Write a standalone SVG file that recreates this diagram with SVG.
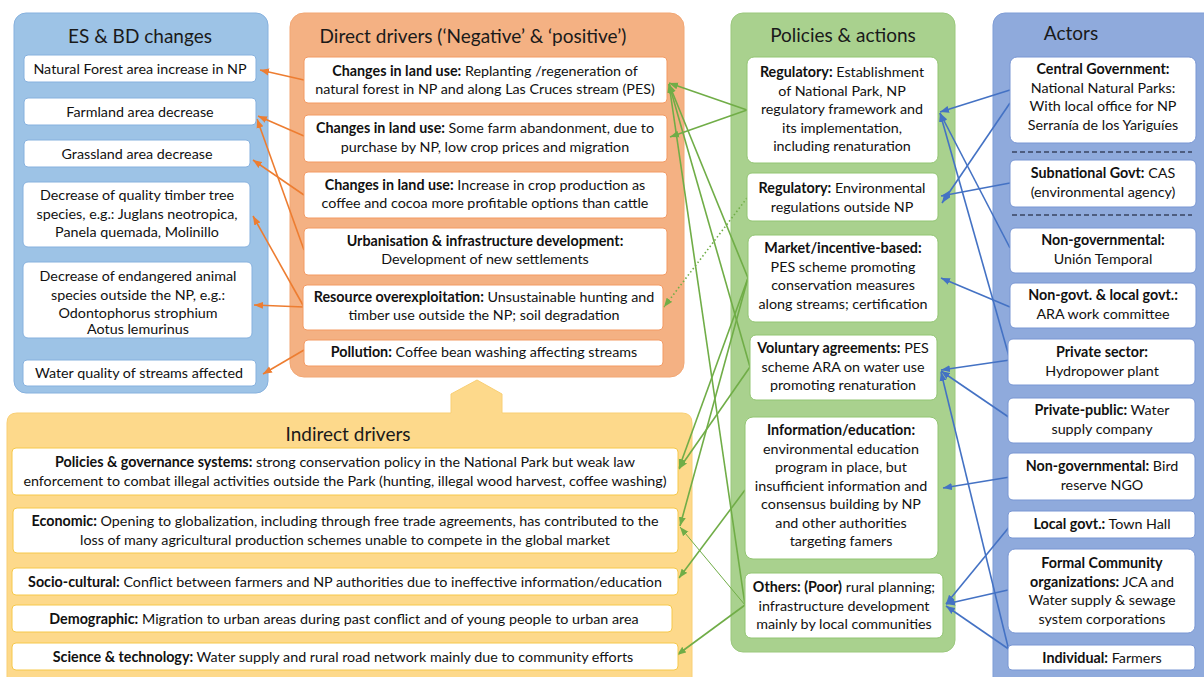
<svg xmlns="http://www.w3.org/2000/svg" width="1204" height="677" viewBox="0 0 1204 677">
  <style>
    text { font-family: Lato, "Liberation Sans", sans-serif; font-size: 14.3px; fill: #111; }
    .t { text-anchor: middle; }
    .b { font-weight: bold; }
    .title { font-size: 19px; text-anchor: middle; fill: #1a1a1a; }
    .es { fill: #fff; stroke: #86b1de; stroke-width: 1; }
    .dd { fill: #fff; stroke: #f39a63; stroke-width: 1; }
    .pa { fill: #fff; stroke: #92c572; stroke-width: 1; }
    .ac { fill: #fff; stroke: #7896d3; stroke-width: 1; }
    .id { fill: #fff; stroke: #f6c84a; stroke-width: 1; }
    .eo { stroke: #ed7d31; stroke-width: 1.6; fill: none; marker-end: url(#ah-o); }
    .eg { stroke: #70ad47; stroke-width: 1.6; fill: none; marker-end: url(#ah-g); }
    .eg-thin { stroke: #70ad47; stroke-width: 1; fill: none; marker-end: url(#ah-g); }
    .eg-dot { stroke: #70ad47; stroke-width: 1.6; fill: none; stroke-dasharray: 1.5 2.5; marker-end: url(#ah-g); }
    .eb { stroke: #4472c4; stroke-width: 1.6; fill: none; marker-end: url(#ah-b); }
  </style>
  <defs>
    <marker id="ah-o" markerUnits="userSpaceOnUse" markerWidth="10" markerHeight="8" refX="9" refY="4" orient="auto">
      <path d="M0,0.5 L9,4 L0,7.5 z" fill="#ed7d31"/>
    </marker>
    <marker id="ah-g" markerUnits="userSpaceOnUse" markerWidth="10" markerHeight="8" refX="9" refY="4" orient="auto">
      <path d="M0,0.5 L9,4 L0,7.5 z" fill="#70ad47"/>
    </marker>
    <marker id="ah-b" markerUnits="userSpaceOnUse" markerWidth="10" markerHeight="8" refX="9" refY="4" orient="auto">
      <path d="M0,0.5 L9,4 L0,7.5 z" fill="#4472c4"/>
    </marker>
  </defs>

  <rect width="1204" height="677" fill="#fff"/>

  <!-- Panels -->
  <g id="panels">
    <rect x="14" y="13" width="254" height="380" rx="12" fill="#9dc3e6" stroke="#86b1de"/>
    <rect x="290" y="13" width="394" height="364" rx="14" fill="#f4b183" stroke="#f2a774"/>
    <rect x="731" y="13" width="224" height="639" rx="12" fill="#a9d18e" stroke="#9bc87d"/>
    <rect x="993" y="13" width="230" height="690" rx="12" fill="#8faadc" stroke="#7f9dd6"/>
    <path d="M17,413 H451 V394 L477,380 L502,394 V413 H682 Q692,413 692,423 V690 H7 V423 Q7,413 17,413 Z" fill="#fdd98b" stroke="#f9cf74"/>
    <text class="title" x="140" y="43">ES &amp; BD changes</text>
    <text class="title" x="473" y="43">Direct drivers (‘Negative’ &amp; ‘positive’)</text>
    <text class="title" x="843" y="42">Policies &amp; actions</text>
    <text class="title" x="1071" y="40">Actors</text>
    <text class="title" x="348" y="441">Indirect drivers</text>
    <line x1="1012" y1="152" x2="1192" y2="152" stroke="#3a4460" stroke-width="1.4" stroke-dasharray="5 3"/>
    <line x1="1012" y1="215" x2="1192" y2="215" stroke="#3a4460" stroke-width="1.4" stroke-dasharray="5 3"/>
  </g>

  <!-- Connectors -->
  <g id="connectors">
    <!-- direct drivers to ES & BD changes -->
    <line class="eo" x1="304" y1="80" x2="260" y2="70"/>
    <line class="eo" x1="304" y1="136" x2="258" y2="116"/>
    <line class="eo" x1="304" y1="250" x2="257" y2="119"/>
    <line class="eo" x1="304" y1="195" x2="253" y2="160"/>
    <line class="eo" x1="304" y1="307" x2="253" y2="216"/>
    <line class="eo" x1="304" y1="307" x2="254" y2="305"/>
    <line class="eo" x1="304" y1="350" x2="263" y2="374"/>
    <!-- policies to drivers -->
    <line class="eg" x1="747" y1="110" x2="669" y2="83"/>
    <line class="eg" x1="747" y1="110" x2="670" y2="137"/>
    <line class="eg-dot" x1="747" y1="198" x2="664" y2="307"/>
    <line class="eg" x1="748" y1="278" x2="669" y2="84"/>
    <line class="eg" x1="750" y1="367" x2="669" y2="84"/>
    <line class="eg" x1="745" y1="605" x2="669" y2="84"/>
    <line class="eg" x1="748" y1="278" x2="679" y2="468"/>
    <line class="eg" x1="748" y1="278" x2="680" y2="526"/>
    <line class="eg" x1="750" y1="367" x2="679" y2="469"/>
    <line class="eg" x1="745" y1="490" x2="679" y2="578"/>
    <line class="eg-thin" x1="745" y1="605" x2="680" y2="527"/>
    <line class="eg" x1="745" y1="605" x2="677" y2="655"/>
    <!-- actors to policies -->
    <line class="eb" x1="1010" y1="90" x2="940" y2="112"/>
    <line class="eb" x1="1010" y1="103" x2="942" y2="203"/>
    <line class="eb" x1="1010" y1="183" x2="941" y2="196"/>
    <line class="eb" x1="1010" y1="248" x2="940" y2="113"/>
    <line class="eb" x1="1010" y1="360" x2="940" y2="113"/>
    <line class="eb" x1="1010" y1="307" x2="941" y2="278"/>
    <line class="eb" x1="1010" y1="360" x2="941" y2="370"/>
    <line class="eb" x1="1010" y1="418" x2="941" y2="371"/>
    <line class="eb" x1="1010" y1="655" x2="941" y2="372"/>
    <line class="eb" x1="1010" y1="477" x2="943" y2="488"/>
    <line class="eb" x1="1010" y1="526" x2="946" y2="604"/>
    <line class="eb" x1="1008" y1="590" x2="946" y2="604"/>
    <line class="eb" x1="1010" y1="650" x2="946" y2="606"/>
  </g>

  <!-- ES & BD changes -->
  <g id="es-forest"><rect class="es" x="24" y="55" width="232" height="27" rx="4"/>
    <text class="t" x="140" y="74">Natural Forest area increase in NP</text></g>
  <g id="es-farmland"><rect class="es" x="24" y="98" width="232" height="27" rx="4"/>
    <text class="t" x="140" y="117">Farmland area decrease</text></g>
  <g id="es-grassland"><rect class="es" x="24" y="140" width="226" height="27" rx="4"/>
    <text class="t" x="137" y="159">Grassland area decrease</text></g>
  <g id="es-timber"><rect class="es" x="23" y="182" width="227" height="65" rx="5"/>
    <text class="t" x="137" y="200">Decrease of quality timber tree</text>
    <text class="t" x="137" y="218.5">species, e.g.:  Juglans neotropica,</text>
    <text class="t" x="137" y="237">Panela quemada, Molinillo</text></g>
  <g id="es-animals"><rect class="es" x="23" y="262" width="229" height="76" rx="5"/>
    <text class="t" x="138" y="281">Decrease of endangered animal</text>
    <text class="t" x="138" y="299.5">species outside the NP, e.g.:</text>
    <text class="t" x="138" y="318">Odontophorus strophium</text>
    <text class="t" x="138" y="334">Aotus lemurinus</text></g>
  <g id="es-water"><rect class="es" x="23" y="360" width="233" height="26" rx="4"/>
    <text class="t" x="139" y="378">Water quality of streams affected</text></g>

  <!-- Direct drivers -->
  <g id="dd-replanting"><rect class="dd" x="304" y="57" width="363" height="46" rx="4"/>
    <text class="t" x="485" y="76"><tspan class="b">Changes in land use:</tspan> Replanting /regeneration of</text>
    <text class="t" x="485" y="94">natural forest in NP and along Las Cruces stream (PES)</text></g>
  <g id="dd-abandonment"><rect class="dd" x="304" y="115" width="363" height="47" rx="4"/>
    <text class="t" x="485" y="133"><tspan class="b">Changes in land use:</tspan> Some farm abandonment, due to</text>
    <text class="t" x="485" y="152">purchase by NP, low crop prices and migration</text></g>
  <g id="dd-crops"><rect class="dd" x="304" y="172" width="363" height="46" rx="4"/>
    <text class="t" x="485" y="190"><tspan class="b">Changes in land use:</tspan> Increase in crop production as</text>
    <text class="t" x="485" y="208">coffee and cocoa more profitable options than cattle</text></g>
  <g id="dd-urbanisation"><rect class="dd" x="304" y="228" width="363" height="47" rx="4"/>
    <text class="t b" x="485" y="246">Urbanisation &amp; infrastructure development:</text>
    <text class="t" x="485" y="264">Development of new settlements</text></g>
  <g id="dd-overexploitation"><rect class="dd" x="303" y="285" width="360" height="45" rx="4"/>
    <text class="t" x="484" y="302"><tspan class="b">Resource overexploitation:</tspan> Unsustainable hunting and</text>
    <text class="t" x="484" y="320">timber use outside the NP; soil degradation</text></g>
  <g id="dd-pollution"><rect class="dd" x="304" y="340" width="359" height="26" rx="4"/>
    <text class="t" x="484" y="357"><tspan class="b">Pollution:</tspan>  Coffee bean washing affecting streams</text></g>

  <!-- Policies & actions -->
  <g id="pa-regulatory-np"><rect class="pa" x="747" y="57" width="191" height="106" rx="7"/>
    <text class="t" x="842" y="77"><tspan class="b">Regulatory:</tspan> Establishment</text>
    <text class="t" x="842" y="95.5">of National Park, NP</text>
    <text class="t" x="842" y="114">regulatory framework and</text>
    <text class="t" x="842" y="132.5">its implementation,</text>
    <text class="t" x="842" y="151">including renaturation</text></g>
  <g id="pa-regulatory-env"><rect class="pa" x="747" y="173" width="191" height="48" rx="5"/>
    <text class="t" x="842" y="193"><tspan class="b">Regulatory:</tspan> Environmental</text>
    <text class="t" x="842" y="211.5">regulations outside NP</text></g>
  <g id="pa-market"><rect class="pa" x="748" y="235" width="190" height="87" rx="7"/>
    <text class="t b" x="843" y="253">Market/incentive-based:</text>
    <text class="t" x="843" y="271.5">PES scheme promoting</text>
    <text class="t" x="843" y="290">conservation measures</text>
    <text class="t" x="843" y="308.5">along streams; certification</text></g>
  <g id="pa-voluntary"><rect class="pa" x="750" y="335" width="187" height="65" rx="6"/>
    <text class="t" x="843" y="353"><tspan class="b">Voluntary agreements:</tspan> PES</text>
    <text class="t" x="843" y="371.5">scheme ARA on water use</text>
    <text class="t" x="843" y="390">promoting renaturation</text></g>
  <g id="pa-information"><rect class="pa" x="745" y="417" width="193" height="142" rx="8"/>
    <text class="t b" x="841" y="435">Information/education:</text>
    <text class="t" x="841" y="453.5">environmental education</text>
    <text class="t" x="841" y="472">program in place, but</text>
    <text class="t" x="841" y="490.5">insufficient information and</text>
    <text class="t" x="841" y="509">consensus building by NP</text>
    <text class="t" x="841" y="527.5">and other authorities</text>
    <text class="t" x="841" y="546">targeting famers</text></g>
  <g id="pa-others"><rect class="pa" x="745" y="573" width="198" height="65" rx="6"/>
    <text class="t" x="844" y="592"><tspan class="b">Others: (Poor)</tspan> rural planning;</text>
    <text class="t" x="844" y="610.5">infrastructure development</text>
    <text class="t" x="844" y="629">mainly by local communities</text></g>

  <!-- Actors -->
  <g id="ac-central"><rect class="ac" x="1010" y="57" width="186" height="86" rx="7"/>
    <text class="t b" x="1103" y="74">Central Government:</text>
    <text class="t" x="1103" y="92.5">National Natural Parks:</text>
    <text class="t" x="1103" y="111">With local office for NP</text>
    <text class="t" x="1103" y="129.5">Serranía de los Yariguíes</text></g>
  <g id="ac-subnational"><rect class="ac" x="1010" y="160" width="186" height="47" rx="5"/>
    <text class="t" x="1103" y="178"><tspan class="b">Subnational  Govt:</tspan> CAS</text>
    <text class="t" x="1103" y="196.5">(environmental agency)</text></g>
  <g id="ac-union"><rect class="ac" x="1010" y="228" width="186" height="45" rx="5"/>
    <text class="t b" x="1103" y="245">Non-governmental:</text>
    <text class="t" x="1103" y="263.5">Unión Temporal</text></g>
  <g id="ac-ara"><rect class="ac" x="1010" y="283" width="186" height="45" rx="5"/>
    <text class="t b" x="1103" y="300">Non-govt. &amp; local govt.:</text>
    <text class="t" x="1103" y="318.5">ARA work committee</text></g>
  <g id="ac-private"><rect class="ac" x="1008" y="339" width="187" height="46" rx="5"/>
    <text class="t b" x="1102" y="357">Private sector:</text>
    <text class="t" x="1102" y="375.5">Hydropower plant</text></g>
  <g id="ac-water"><rect class="ac" x="1008" y="398" width="187" height="45" rx="5"/>
    <text class="t" x="1102" y="415"><tspan class="b">Private-public:</tspan> Water</text>
    <text class="t" x="1102" y="433.5">supply company</text></g>
  <g id="ac-bird"><rect class="ac" x="1008" y="453" width="187" height="47" rx="5"/>
    <text class="t" x="1102" y="471"><tspan class="b">Non-governmental:</tspan> Bird</text>
    <text class="t" x="1102" y="489.5">reserve NGO</text></g>
  <g id="ac-town"><rect class="ac" x="1008" y="511" width="187" height="27" rx="4"/>
    <text class="t" x="1102" y="529"><tspan class="b">Local govt.:</tspan> Town Hall</text></g>
  <g id="ac-community"><rect class="ac" x="1008" y="549" width="187" height="84" rx="7"/>
    <text class="t b" x="1102" y="568">Formal Community</text>
    <text class="t" x="1102" y="586.5"><tspan class="b">organizations:</tspan> JCA and</text>
    <text class="t" x="1102" y="605">Water supply &amp; sewage</text>
    <text class="t" x="1102" y="623.5">system corporations</text></g>
  <g id="ac-farmers"><rect class="ac" x="1008" y="645" width="187" height="25" rx="4"/>
    <text class="t" x="1102" y="663"><tspan class="b">Individual:</tspan>  Farmers</text></g>

  <!-- Indirect drivers -->
  <g id="id-policies"><rect class="id" x="12" y="448" width="666" height="47" rx="4"/>
    <text class="t" x="345" y="467"><tspan class="b">Policies &amp; governance systems:</tspan> strong conservation policy in the National Park but weak law</text>
    <text class="t" x="345" y="485.5">enforcement to combat illegal activities outside the Park (hunting, illegal wood harvest, coffee washing)</text></g>
  <g id="id-economic"><rect class="id" x="13" y="508" width="665" height="45" rx="4"/>
    <text class="t" x="345" y="526"><tspan class="b">Economic:</tspan> Opening to globalization, including through free trade agreements, has contributed to the</text>
    <text class="t" x="345" y="544.5">loss of many agricultural production schemes unable to compete in the global market</text></g>
  <g id="id-socio"><rect class="id" x="12" y="568" width="666" height="27" rx="4"/>
    <text class="t" x="345" y="587"><tspan class="b">Socio-cultural:</tspan>  Conflict between farmers and NP authorities due to ineffective information/education</text></g>
  <g id="id-demographic"><rect class="id" x="12" y="605" width="660" height="27" rx="4"/>
    <text class="t" x="344" y="623.5"><tspan class="b">Demographic:</tspan>  Migration to urban areas during past conflict and of young people to urban area</text></g>
  <g id="id-science"><rect class="id" x="12" y="643" width="666" height="27" rx="4"/>
    <text class="t" x="343" y="661.5"><tspan class="b">Science &amp; technology:</tspan> Water supply and rural road network mainly due to community efforts</text></g>
</svg>
